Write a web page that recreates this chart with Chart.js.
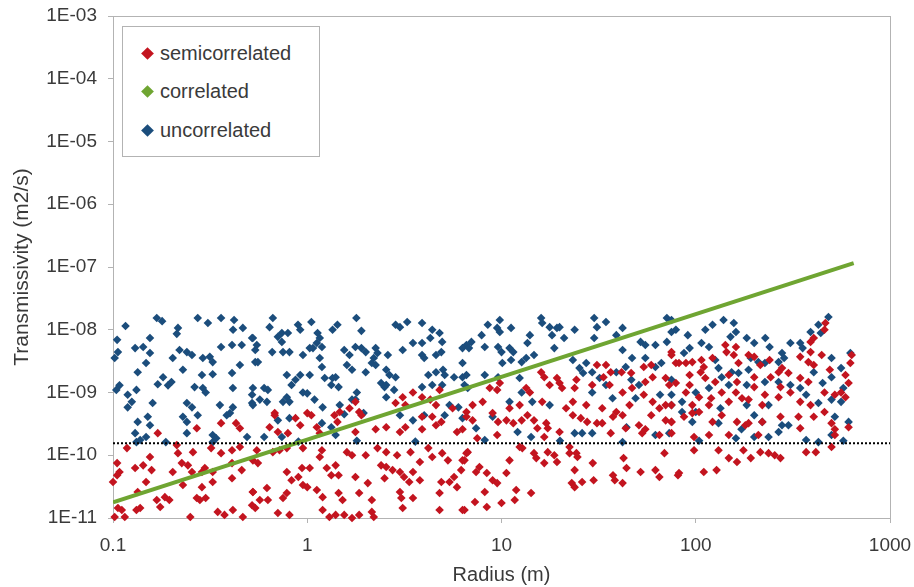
<!DOCTYPE html>
<html>
<head>
<meta charset="utf-8">
<script src="https://cdn.jsdelivr.net/npm/chart.js@4.4.1/dist/chart.umd.min.js"></script>
<style>
  html, body { margin: 0; padding: 0; background: #fff; }
  #wrap { position: relative; width: 914px; height: 587px; }
  #legend {
    position: absolute; left: 122px; top: 26px; width: 198px; height: 131px;
    border: 1px solid #b3b3b3; background: #fff; box-sizing: border-box;
    font-family: "Liberation Sans", Arial, sans-serif; font-size: 20px; color: #3a3a3a;
  }
  .item { position: absolute; left: 20px; height: 24px; display: flex; align-items: center; }
  .item i { display: inline-block; width: 9px; height: 9px; transform: rotate(45deg); margin-right: 8px; }
</style>
</head>
<body>
<div id="wrap">
  <canvas id="chart" width="914" height="587"></canvas>
  <div id="legend"></div>
</div>
<script>
// series names and colours
const seriesNames = ['semicorrelated', 'correlated', 'uncorrelated'];
const seriesColors = ['#c3141f', '#6fa532', '#1b4d7c'];

// axis ticks
const xTickValues = [0.1, 1, 10, 100, 1000];
const xTickLabels = ['0.1', '1', '10', '100', '1000'];
const yTickValues = [1e-11, 1e-10, 1e-9, 1e-8, 1e-7, 1e-6, 1e-5, 1e-4, 1e-3];
const yTickLabels = ['1E-11', '1E-10', '1E-09', '1E-08', '1E-07', '1E-06', '1E-05', '1E-04', '1E-03'];

// correlated: straight line end points
const correlated = [[0.1, 1.78e-11], [650, 1.15e-7]];

// dotted reference level
const thresholdT = 1.55e-10;
const thresholdR = [0.1, 1000];

// uncorrelated [radius, transmissivity]
const uncorrelated = [
  [0.116,1.15e-8],[0.168,1.54e-8],[0.179,1.37e-8],[0.273,1.54e-8],[0.308,1.28e-8],[0.36,1.54e-8],[0.42,1.43e-8],
  [0.415,1.0e-8],[0.466,1.07e-8],[0.216,1.07e-8],[0.213,8.6e-9],[0.105,6.9e-9],[0.155,7.4e-9],[0.13,5.1e-9],
  [0.143,5.3e-9],[0.106,4.4e-9],[0.102,3.55e-9],[0.155,4.25e-9],[0.22,4.75e-9],[0.24,4.4e-9],[0.255,3.95e-9],
  [0.203,3.55e-9],[0.29,3.55e-9],[0.315,3.7e-9],[0.326,3.05e-9],[0.36,5.3e-9],[0.41,5.7e-9],[0.46,5.7e-9],
  [0.52,7.4e-9],[0.148,2.95e-9],[0.134,2.1e-9],[0.229,2.3e-9],[0.287,1.9e-9],[0.326,1.95e-9],[0.41,2.05e-9],
  [0.45,2.75e-9],[0.181,1.75e-9],[0.17,1.35e-9],[0.192,1.3e-9],[0.2,1.47e-9],[0.108,1.3e-9],[0.104,1.1e-9],
  [0.132,1.1e-9],[0.119,9.2e-10],[0.263,1.22e-9],[0.29,1.18e-9],[0.3,1.0e-9],[0.414,1.18e-9],[0.52,6.8e-10],
  [0.125,7.1e-10],[0.119,5.8e-10],[0.16,6.8e-10],[0.24,6.8e-10],[0.255,5.8e-10],[0.355,6.3e-10],[0.414,5.8e-10],
  [0.134,3.4e-10],[0.151,4.1e-10],[0.155,3.0e-10],[0.229,4.1e-10],[0.24,3.4e-10],[0.273,4.35e-10],[0.385,4.35e-10],
  [0.4,4.7e-10],[0.13,2.25e-10],[0.148,1.95e-10],[0.24,2.25e-10],[0.326,2.1e-10],[0.34,1.87e-10],[0.49,1.95e-10],
  [0.132,1.62e-10],[0.138,1.75e-10],[0.187,1.62e-10],[0.326,1.62e-10],
  [0.665,1.54e-8],[0.64,1.1e-8],[0.896,1.2e-8],[0.92,1.0e-8],[1.05,1.33e-8],[0.74,8.9e-9],[0.706,7.7e-9],
  [0.74,6.4e-9],[0.795,8.9e-9],[0.525,7.4e-9],[0.55,5.7e-9],[0.54,4.75e-9],[1.13,8.9e-9],[1.16,7.4e-9],
  [1.12,6.15e-9],[1.19,5.3e-9],[1.07,5.1e-9],[1.35,1.0e-8],[1.43,1.2e-8],[1.79,1.54e-8],[1.9,9.6e-9],
  [2.85,1.2e-8],[3.0,1.1e-8],[3.27,1.33e-8],[3.9,1.28e-8],[4.4,1.0e-8],[4.8,8.9e-9],[4.3,7.4e-9],[3.9,6.15e-9],
  [4.95,6.4e-9],[3.5,6.15e-9],[3.1,4.75e-9],[0.66,4.4e-9],[0.75,4.4e-9],[0.81,4.4e-9],[0.95,3.95e-9],[1.03,5.1e-9],
  [1.16,3.55e-9],[1.19,2.55e-9],[1.55,4.75e-9],[1.65,3.95e-9],[1.77,5.3e-9],[1.9,5.1e-9],[2.0,4.4e-9],
  [2.25,5.1e-9],[2.3,4.25e-9],[2.2,3.55e-9],[2.15,2.95e-9],[2.25,2.75e-9],[2.6,3.95e-9],[3.9,3.95e-9],
  [4.0,3.55e-9],[4.6,3.95e-9],[4.9,4.4e-9],[0.54,3.05e-9],[0.557,3.05e-9],[1.6,2.75e-9],[1.7,2.3e-9],
  [2.0,2.1e-9],[2.55,2.3e-9],[2.65,1.9e-9],[0.785,1.9e-9],[0.92,1.9e-9],[0.87,1.6e-9],[0.83,1.32e-9],
  [1.03,1.9e-9],[1.23,1.7e-9],[1.35,1.7e-9],[1.4,1.75e-9],[1.33,1.32e-9],[1.45,1.22e-9],[2.85,1.75e-9],
  [2.4,1.42e-9],[2.55,1.32e-9],[2.5,1.22e-9],[4.2,1.9e-9],[4.6,2.1e-9],[5.0,2.3e-9],[5.1,1.9e-9],[3.9,1.22e-9],
  [4.4,1.32e-9],[4.95,1.32e-9],[5.7,1.75e-9],[6.3,1.75e-9],[0.6,1.18e-9],[0.627,1.1e-9],[0.525,1.18e-9],
  [0.52,9.2e-10],[0.95,1.0e-9],[1.0,9.7e-10],[1.09,7.7e-10],[0.785,8.4e-10],[0.75,7.1e-10],[1.8,1.0e-9],
  [1.77,7.7e-10],[2.55,8.4e-10],[2.8,1.1e-9],[0.57,7.7e-10],[0.62,7.1e-10],[0.525,6.3e-10],[0.81,7.1e-10],
  [1.2,5.8e-10],[1.47,6.3e-10],[1.7,7.7e-10],[5.4,6.3e-10],[6.0,5.8e-10],[6.45,1.32e-9],[6.7,1.18e-9],
  [0.706,3.6e-10],[0.81,3.9e-10],[0.6,1.95e-10],[0.74,1.95e-10],[1.19,3.25e-10],[1.33,2.8e-10],[1.55,4.5e-10],
  [1.95,4.7e-10],[3.0,4.35e-10],[3.5,3.6e-10],[4.0,4.35e-10],[5.1,4.35e-10],[6.3,3.9e-10],[1.4,2.1e-10],
  [0.9,1.65e-10],[1.8,1.7e-10],[3.6,1.65e-10],[20,1.7e-10],[104,1.7e-10],[575,1.7e-10],
  [9.8,1.43e-8],[8.5,1.2e-8],[9.5,1.07e-8],[9.8,9.2e-9],[11.2,1.07e-8],[7.9,8.2e-9],[7.0,6.4e-9],[6.6,5.7e-9],
  [6.3,5.1e-9],[6.8,5.1e-9],[8.2,5.3e-9],[9.6,5.3e-9],[10,4.4e-9],[11,5.1e-9],[11.5,4.4e-9],[10.1,2.95e-9],
  [11.2,3.3e-9],[12.7,3.05e-9],[13.4,3.55e-9],[14.7,3.95e-9],[14.0,8.2e-9],[13.6,6.15e-9],[16,1.54e-8],
  [16.2,1.28e-8],[17.7,1.1e-8],[19.3,1.07e-8],[19.9,1.1e-8],[21,7.4e-9],[18.7,5.1e-9],[18.2,8.2e-9],
  [23.8,1.0e-8],[30,1.54e-8],[34.5,1.33e-8],[31,1.1e-8],[42,1.07e-8],[30,7.4e-9],[39,8.2e-9],[42,4.75e-9],
  [47,3.55e-9],[52,6.4e-9],[55,5.7e-9],[62,5.7e-9],[71,6.4e-9],[75,9.2e-9],[71,1.54e-8],[6.3,2.95e-9],
  [6.6,1.9e-9],[8.2,1.9e-9],[9.6,1.75e-9],[12.4,1.7e-9],[23.3,3.3e-9],[25.2,2.45e-9],[27.3,2.95e-9],
  [26.3,2.05e-9],[29.3,2.1e-9],[32,1.7e-9],[34.5,1.32e-9],[39,2.1e-9],[43.6,2.55e-9],[46.6,1.6e-9],
  [51,1.32e-9],[62,2.55e-9],[55,3.55e-9],[66.5,2.95e-9],[29.3,1.0e-9],[37.3,8.1e-10],[49,8.1e-10],
  [12.7,1.0e-9],[14.4,7.1e-10],[11,7.1e-10],[17.7,6.3e-10],[65.5,9.2e-10],[75,6.3e-10],
  [9,4.1e-10],[7.4,2.7e-10],[8.2,1.75e-10],[12.1,2.35e-10],[14.2,1.95e-10],[23.8,2.25e-10],[26,2.25e-10],
  [29.3,2.25e-10],[42,1.62e-10],[44,2.8e-10],[62,2.1e-10],[73,2.25e-10],
  [75,1.43e-8],[79,1.0e-8],[91,8.2e-9],[112,1.0e-8],[122,1.2e-8],[139,1.43e-8],[157,1.28e-8],[161,9.2e-9],
  [151,7.7e-9],[183,7.4e-9],[200,6.15e-9],[228,7.4e-9],[240,5.3e-9],[278,4.25e-9],[285,3.55e-9],[267,3.05e-9],
  [307,6.15e-9],[345,6.15e-9],[355,5.1e-9],[390,9.2e-9],[428,1.2e-8],[482,1.6e-8],[440,8.9e-9],[500,3.55e-9],
  [560,2.45e-9],[625,4.25e-9],[93,5.1e-9],[87,4.25e-9],[107,6.15e-9],[117,5.3e-9],[131,2.45e-9],[136,1.75e-9],
  [153,2.1e-9],[166,2.05e-9],[187,2.3e-9],[210,3.05e-9],[227,2.95e-9],[183,1.32e-9],[148,1.32e-9],
  [117,1.18e-9],[100,1.0e-9],[85,7.1e-10],[75,9.2e-10],[227,1.47e-9],[267,1.47e-9],[307,1.32e-9],
  [345,1.18e-9],[405,2.1e-9],[450,1.42e-9],[500,1.75e-9],[575,1.18e-9],[500,7.7e-10],[370,9.2e-10],
  [428,6.8e-10],[560,7.1e-10],[237,6.3e-10],[183,6.3e-10],[134,5.6e-10],[100,4.9e-10],[75,1.6e-9],
  [192,3.55e-9],[126,3.3e-9],
  [85,4.9e-10],[96,3.4e-10],[131,3.25e-10],[200,4.35e-10],[220,3.4e-10],[172,2.6e-10],[200,1.95e-10],
  [237,1.95e-10],[278,3.0e-10],[300,3.0e-10],[267,2.35e-10],[370,1.75e-10],[428,1.62e-10],[520,4.1e-10],
  [612,3.4e-10],[500,2.1e-10],[161,1.87e-10]
];

// semicorrelated [radius, transmissivity]
const semicorrelated = [
  [0.27,2.7e-10],[0.36,3.25e-10],[0.43,3.25e-10],[0.45,2.7e-10],[0.17,2.25e-10],[0.118,1.3e-10],[0.155,9.4e-11],
  [0.213,1.45e-10],[0.216,1.08e-10],[0.258,1.12e-10],[0.32,1.3e-10],[0.36,1.08e-10],[0.41,1.2e-10],[0.45,1.35e-10],
  [0.105,7.5e-11],[0.108,5.4e-11],[0.105,4.8e-11],[0.1,3.75e-11],[0.13,6.25e-11],[0.143,6.9e-11],[0.158,5.8e-11],
  [0.148,3.75e-11],[0.203,5.4e-11],[0.226,7.5e-11],[0.243,6.9e-11],[0.255,5.4e-11],[0.229,3.35e-11],
  [0.287,5.4e-11],[0.297,6.25e-11],[0.326,5.4e-11],[0.326,3.75e-11],[0.287,3.1e-11],[0.41,7.5e-11],
  [0.41,4.3e-11],[0.46,5.8e-11],[0.134,2.6e-11],[0.168,1.94e-11],[0.185,2.15e-11],[0.195,1.94e-11],
  [0.175,1.5e-11],[0.106,1.44e-11],[0.111,1.34e-11],[0.102,1.04e-11],[0.115,1.04e-11],[0.132,1.34e-11],
  [0.138,1.44e-11],[0.25,1.04e-11],[0.27,2.08e-11],[0.28,1.94e-11],[0.3,2.08e-11],[0.346,1.25e-11],
  [0.375,1.12e-11],[0.414,1.34e-11],[0.466,1.04e-11],[0.52,1.6e-11],[0.54,1.44e-11],[0.525,2.6e-11],
  [2.85,6.8e-10],[3.1,8.4e-10],[3.5,1.0e-9],[3.9,8.4e-10],[4.3,7.7e-10],[4.6,6.3e-10],[3.2,6.3e-10],
  [4.8,1.1e-9],[5.6,5.6e-10],[0.68,4.7e-10],[1.0,4.7e-10],[1.47,4.9e-10],[1.77,7.1e-10],[1.85,4.9e-10],
  [1.65,5.6e-10],
  [0.68,4.35e-10],[0.87,3.9e-10],[0.92,3.0e-10],[1.05,4.35e-10],[0.64,2.8e-10],[0.706,2.35e-10],
  [0.795,2.25e-10],[1.12,2.8e-10],[1.16,2.25e-10],[1.38,4.35e-10],[1.43,3.4e-10],[1.77,2.35e-10],
  [1.9,4.35e-10],[2.25,2.6e-10],[2.55,2.8e-10],[3.2,2.8e-10],[3.0,2.35e-10],[3.9,2.6e-10],[4.6,3.0e-10],
  [4.9,3.4e-10],[5.9,2.35e-10],[3.9,4.1e-10],[4.4,4.1e-10],
  [0.55,1.2e-10],[0.525,8.3e-11],[0.557,7.5e-11],[0.665,1.12e-10],[0.72,1.2e-10],[0.785,1.3e-10],
  [0.95,1.3e-10],[1.19,1.2e-10],[1.16,9.4e-11],[1.6,1.12e-10],[1.7,1.0e-10],[2.0,1.0e-10],[2.3,1.3e-10],
  [2.55,1.12e-10],[2.9,1.0e-10],[3.4,1.12e-10],[4.2,1.3e-10],[4.4,9.4e-11],[4.95,1.08e-10],[5.3,8.3e-11],
  [6.3,8.3e-11],[6.7,1.12e-10],
  [0.785,5.4e-11],[0.94,6.25e-11],[0.83,4.0e-11],[0.9,4.5e-11],[1.03,6.25e-11],[1.26,6.25e-11],[1.4,6.9e-11],
  [1.33,4.8e-11],[1.45,4.8e-11],[1.77,4.5e-11],[2.05,3.6e-11],[2.4,6.9e-11],[2.55,6.5e-11],[2.5,4.3e-11],
  [2.75,5.8e-11],[3.0,5.4e-11],[3.15,4.5e-11],[3.5,5.4e-11],[3.35,3.75e-11],[3.8,4.0e-11],[3.8,7.8e-11],
  [4.9,3.75e-11],[5.4,3.75e-11],[5.7,4.5e-11],[5.9,3.1e-11],
  [0.525,2.6e-11],[0.62,3.0e-11],[0.57,1.94e-11],[0.627,1.94e-11],[0.75,2.08e-11],[0.785,2.5e-11],
  [0.95,3.35e-11],[1.0,3.1e-11],[1.12,2.8e-11],[1.45,2.5e-11],[1.52,1.94e-11],[1.2,2.15e-11],[1.85,2.5e-11],
  [2.15,1.94e-11],[3.0,2.6e-11],[3.05,2.08e-11],[3.5,2.08e-11],[4.8,2.5e-11],[3.1,1.44e-11],[4.8,1.34e-11],
  [6.45,1.34e-11],[0.706,1.2e-11],[0.81,1.12e-11],[1.2,1.34e-11],[1.3,1.04e-11],[1.4,1.12e-11],
  [1.55,1.12e-11],[1.7,1.0e-11],[1.85,1.12e-11],[2.15,1.25e-11],[2.2,1.04e-11],
  [16,2.1e-9],[16.6,1.75e-9],[19.3,1.7e-9],[17.7,1.32e-9],[19.9,1.42e-9],[20.5,1.18e-9],[24.3,1.6e-9],
  [31,2.75e-9],[34.5,2.75e-9],[36.5,2.1e-9],[33.5,1.75e-9],[36,1.32e-9],[41.5,2.1e-9],[46.5,2.05e-9],
  [47,1.18e-9],[42,1.0e-9],[54,2.55e-9],[59,2.75e-9],[60,1.75e-9],[55,1.47e-9],[70,1.7e-9],[73,1.32e-9],
  [75,4.4e-9],[79,2.95e-9],[23.8,1.18e-9],[29.3,1.32e-9],[9.8,1.42e-9],[9.5,1.1e-9],[8.7,1.18e-9],
  [13.4,1.18e-9],[8.0,7.1e-10],[7.1,6.3e-10],[6.6,4.9e-10],[11,5.6e-10],[12.4,6.3e-10],[14,1.0e-9],
  [16.2,7.1e-10],[21.5,5.6e-10],[23.3,7.1e-10],[27.3,6.3e-10],[33,5.6e-10],[39,4.9e-10],[45.6,6.3e-10],
  [65,5.6e-10],[70,6.3e-10],[60,7.1e-10],[54,9.2e-10],
  [6.6,4.1e-10],[7.1,3.6e-10],[9.0,4.7e-10],[9.6,3.4e-10],[10.6,3.6e-10],[11.5,3.25e-10],[12.7,3.6e-10],
  [13.6,4.35e-10],[14.7,3.6e-10],[17,3.25e-10],[17.3,2.7e-10],[15.3,2.7e-10],[16.6,1.95e-10],[19.9,2.35e-10],
  [23.3,4.35e-10],[25.6,3.9e-10],[27.6,3.4e-10],[31,3.25e-10],[33,3.25e-10],[37.5,4.1e-10],[42,4.35e-10],
  [43.6,2.7e-10],[51,3.0e-10],[53,2.25e-10],[59,4.35e-10],[70,3.6e-10],[75,3.4e-10],[36.5,2.25e-10],
  [55,2.6e-10],[65,2.1e-10],[6.3,2.6e-10],[7.5,1.87e-10],[9.5,2.1e-10],[12.4,1.35e-10],[12.8,1.3e-10],
  [14.7,1.08e-10],[15.1,9.0e-11],[17.3,1.12e-10],[18.7,1.0e-10],[19.3,7.8e-11],[22.4,1.35e-10],
  [22.4,1.08e-10],[24.3,1.08e-10],[24.6,9.4e-11],[6.6,1.08e-10],[6.45,8.3e-11],[6.2,5.8e-11],[11,8.3e-11],
  [7.7,6.5e-11],[7.4,5.4e-11],[8.4,5.2e-11],[9.0,4.0e-11],[9.5,3.6e-11],[10.6,5.2e-11],[8.2,2.6e-11],
  [7.3,1.8e-11],[6.3,1.34e-11],[8.4,1.5e-11],[10,1.73e-11],[11.9,2.8e-11],[11.7,1.94e-11],[14.2,2.5e-11],
  [16.6,7.5e-11],[23.8,5.8e-11],[23,3.6e-11],[23.8,3.1e-11],[26,3.75e-11],[29.5,7.5e-11],[29.8,4.0e-11],
  [37.5,4.8e-11],[38.3,4.0e-11],[42,3.6e-11],[42.5,9.0e-11],[44,6.25e-11],[52,5.4e-11],[62,5.8e-11],
  [65,4.5e-11],[69,1.08e-10],[81,4.8e-11],
  [75,3.95e-9],[82,2.95e-9],[89,2.95e-9],[96,3.05e-9],[107,3.3e-9],[110,2.55e-9],[122,3.55e-9],[142,5.7e-9],
  [144,4.4e-9],[161,5.3e-9],[157,3.95e-9],[166,2.95e-9],[187,3.95e-9],[200,3.7e-9],[215,2.75e-9],
  [240,3.3e-9],[267,2.1e-9],[278,2.45e-9],[300,2.05e-9],[345,3.7e-9],[380,3.05e-9],[390,6.4e-9],
  [405,7.4e-9],[460,1.0e-8],[465,1.28e-8],[445,3.95e-9],[390,4.4e-9],[405,2.75e-9],[490,2.3e-9],
  [590,1.9e-9],[625,2.95e-9],[635,3.95e-9],[93,1.9e-9],[106,2.1e-9],[112,1.7e-9],[126,1.47e-9],
  [148,1.9e-9],[163,1.47e-9],[200,1.75e-9],[200,1.22e-9],[243,1.75e-9],[273,1.22e-9],[307,1.0e-9],
  [267,8.4e-10],[227,9.2e-10],[161,1.0e-9],[173,8.1e-10],[136,1.0e-9],[120,8.1e-10],[104,8.4e-10],
  [93,1.32e-9],[79,1.42e-9],[89,1.0e-9],[75,6.3e-10],[96,6.3e-10],[117,6.3e-10],[148,7.1e-10],
  [187,7.7e-10],[220,6.3e-10],[345,7.1e-10],[390,6.3e-10],[460,1.0e-9],[520,9.2e-10],[560,1.0e-9],
  [612,1.42e-9],[590,8.4e-10],[345,1.7e-9],[380,1.47e-9],
  [75,3.4e-10],[87,4.1e-10],[96,4.7e-10],[104,4.9e-10],[122,3.4e-10],[136,4.35e-10],[163,3.4e-10],
  [180,3.0e-10],[187,3.25e-10],[220,3.4e-10],[273,4.1e-10],[338,4.1e-10],[345,2.7e-10],[405,4.1e-10],
  [460,4.9e-10],[500,3.25e-10],[520,2.6e-10],[612,2.8e-10],[75,2.25e-10],[98,1.95e-10],[98,1.2e-10],
  [117,2.1e-10],[131,1.2e-10],[148,2.1e-10],[176,1.2e-10],[148,9.0e-11],[163,7.8e-11],[192,9.0e-11],
  [210,2.1e-10],[215,1.12e-10],[237,1.08e-10],[255,1.0e-10],[273,9.0e-11],[370,1.12e-10],[415,1.12e-10],
  [500,1.35e-10],[520,2.1e-10],[82,5.2e-11],[110,5.4e-11],[128,5.8e-11]
];

const toPoints = arr => arr.map(p => ({ x: p[0], y: p[1] }));

// light frame round the plot area (top and right edges too)
const framePlugin = {
  id: 'frame',
  beforeDatasetsDraw(chart) {
    const a = chart.chartArea, ctx = chart.ctx;
    ctx.save();
    ctx.strokeStyle = '#b3b3b3';
    ctx.lineWidth = 1;
    ctx.strokeRect(a.left + 0.5, a.top + 0.5, a.right - a.left, a.bottom - a.top);
    ctx.restore();
  }
};

const tickFont = { family: '"Liberation Sans", Arial, sans-serif', size: 19 };
const titleFont = { family: '"Liberation Sans", Arial, sans-serif', size: 20 };

new Chart(document.getElementById('chart'), {
  type: 'scatter',
  data: {
    datasets: [
      {
        label: 'threshold',
        data: thresholdR.map(r => ({ x: r, y: thresholdT })),
        showLine: true, borderColor: '#000', borderWidth: 2, borderDash: [2, 2],
        pointRadius: 0, order: 0
      },
      {
        label: seriesNames[1],
        data: toPoints(correlated),
        showLine: true, borderColor: seriesColors[1], borderWidth: 4,
        pointRadius: 0, order: 1
      },
      {
        label: seriesNames[0],
        data: toPoints(semicorrelated),
        backgroundColor: seriesColors[0], borderWidth: 0,
        pointStyle: 'rectRot', pointRadius: 4.3, order: 2, clip: 6
      },
      {
        label: seriesNames[2],
        data: toPoints(uncorrelated),
        backgroundColor: seriesColors[2], borderWidth: 0,
        pointStyle: 'rectRot', pointRadius: 4.3, order: 3, clip: 6
      }
    ]
  },
  options: {
    responsive: false,
    animation: false,
    layout: { padding: { left: 0, top: 16, right: 24, bottom: 0 } },
    plugins: { legend: { display: false }, tooltip: { enabled: false } },
    scales: {
      x: {
        type: 'logarithmic', min: 0.1, max: 1000,
        afterBuildTicks: s => { s.ticks = xTickValues.map(v => ({ value: v })); },
        afterFit: s => { s.height = 69; s.paddingLeft = 10; s.paddingRight = 20; },
        ticks: { color: '#3a3a3a', font: tickFont, padding: 11, maxRotation: 0,
          callback: (v, i) => xTickLabels[i] },
        grid: { drawOnChartArea: false, tickLength: 5, color: '#b3b3b3' },
        border: { color: '#b3b3b3' },
        title: { display: true, text: 'Radius (m)', color: '#3a3a3a', font: titleFont, padding: { top: 0, bottom: 0 } }
      },
      y: {
        type: 'logarithmic', min: 1e-11, max: 1e-3,
        afterBuildTicks: s => { s.ticks = yTickValues.map(v => ({ value: v })); },
        afterFit: s => { s.width = 113; s.paddingTop = 10; s.paddingBottom = 10; },
        ticks: { color: '#3a3a3a', font: tickFont, padding: 11,
          callback: (v, i) => yTickLabels[i] },
        grid: { drawOnChartArea: false, tickLength: 5, color: '#b3b3b3' },
        border: { color: '#b3b3b3' },
        title: { display: true, text: 'Transmissivity (m2/s)', color: '#3a3a3a',
          font: { family: titleFont.family, size: 21 }, padding: { top: 10, bottom: 0 } }
      }
    }
  },
  plugins: [framePlugin]
});

// legend box inside the plot
const legend = document.getElementById('legend');
seriesNames.forEach((name, i) => {
  const row = document.createElement('div');
  row.className = 'item';
  row.style.top = (14 + i * 38.5) + 'px';
  row.innerHTML = '<i style="background:' + seriesColors[i] + '"></i><span>' + name + '</span>';
  legend.appendChild(row);
});
</script>
</body>
</html>
